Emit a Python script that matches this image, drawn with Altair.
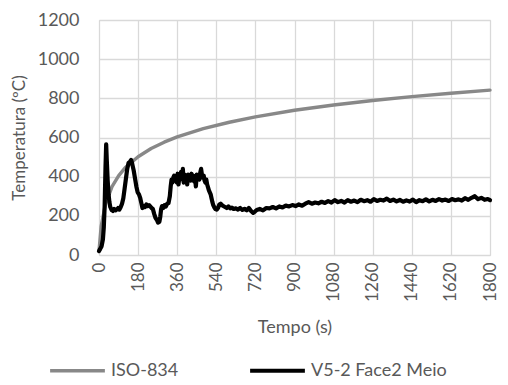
import altair as alt
import pandas as pd

# ISO-834 standard curve
iso_t = [0, 10, 30, 60, 90, 120, 180, 240, 300, 360, 480, 600, 720, 900, 1080, 1260, 1440, 1620, 1800]
iso_T = [20, 147, 261, 349, 404, 445, 502, 544, 576, 603, 645, 678, 705, 739, 766, 789, 809, 826, 842]

v5_t = [0, 5, 12, 18, 22, 26, 30, 33, 36, 40, 44, 48, 52, 58, 64, 70, 76, 82, 88, 94,
        100, 106, 112, 118, 124, 130, 136, 142, 148, 152, 156, 160, 166, 172, 178, 184, 190, 195, 200, 206,
        212, 218, 224, 230, 236, 242, 248, 254, 260, 266, 272, 278, 282, 286, 290, 296, 302, 308, 314, 320,
        326, 330, 334, 338, 342, 346, 350, 354, 358, 362, 366, 370, 374, 378, 382, 386, 390, 394, 398, 402,
        406, 410, 414, 418, 422, 426, 430, 434, 438, 442, 446, 450, 454, 458, 462, 466, 470, 474, 478, 482,
        486, 490, 494, 498, 502, 506, 510, 514, 518, 522, 526, 530, 536, 542, 548, 554, 560, 566, 572, 580,
        588, 596, 604, 612, 620, 630, 640, 650, 660, 670, 680, 690, 700, 710, 718, 726, 740, 755, 770, 785,
        800, 815, 830, 845, 860, 875, 890, 905, 920, 935, 950, 965, 980, 995, 1010, 1025, 1040, 1055, 1070, 1085,
        1100, 1115, 1130, 1145, 1160, 1175, 1190, 1205, 1220, 1235, 1250, 1265, 1280, 1295, 1310, 1325, 1340, 1355, 1370, 1385,
        1400, 1415, 1430, 1445, 1460, 1475, 1490, 1505, 1520, 1535, 1550, 1565, 1580, 1595, 1610, 1625, 1640, 1655, 1670, 1685,
        1700, 1715, 1730, 1745, 1760, 1775, 1790, 1800]
v5_T = [20, 30, 45, 80, 140, 250, 450, 565, 480, 380, 310, 270, 245, 230, 225, 235, 228, 232, 240, 232,
        245, 262, 290, 340, 390, 440, 470, 475, 485, 470, 450, 430, 390, 350, 320, 310, 290, 265, 240, 250,
        245, 258, 250, 255, 248, 240, 235, 210, 190, 180, 165, 170, 195, 235, 250, 240, 255, 248, 262, 265,
        300, 350, 385, 370, 395, 405, 380, 400, 370, 415, 360, 400, 385, 425, 395, 440, 370, 410, 385, 400,
        360, 410, 390, 405, 380, 415, 395, 405, 375, 395, 350, 410, 395, 405, 385, 420, 440, 410, 395, 405,
        380, 370, 385, 360, 345, 330, 320, 310, 290, 270, 255, 245, 235, 232, 240, 258, 262, 255, 250, 245,
        240, 248, 238, 242, 235, 238, 232, 240, 230, 236, 228, 240, 225, 215, 222, 230, 235, 228, 240, 238,
        245, 238, 248, 243, 252, 248, 255, 250, 258, 252, 262, 270, 262, 268, 264, 272, 266, 275, 268, 280,
        270, 276, 268, 280, 272, 278, 270, 282, 275, 280, 272, 285, 276, 282, 278, 288, 276, 283, 274, 281,
        272, 279, 273, 283, 270, 280, 275, 284, 274, 282, 276, 285, 278, 283, 276, 286, 280, 284, 278, 290,
        282, 292, 300, 285, 292, 282, 286, 280]

series = ["ISO-834", "V5-2 Face2 Meio"]
colors = ["#888888", "#000000"]
widths = [3.4, 4.2]

rows = []
for i, (t, T) in enumerate(zip(iso_t, iso_T)):
    rows.append({"t": t, "T": T, "s": series[0], "o": i})
for i, (t, T) in enumerate(zip(v5_t, v5_T)):
    rows.append({"t": t, "T": T, "s": series[1], "o": i})
df = pd.DataFrame(rows)

FONT = "Lato"
TXT = "#595959"
GRID = "#d9d9d9"

chart = alt.Chart(df).mark_line(strokeJoin="round", strokeCap="round").encode(
    x=alt.X("t:Q", title="Tempo (s)",
            scale=alt.Scale(domain=[0, 1800], nice=False, zero=False),
            axis=alt.Axis(values=list(range(0, 1801, 180)), format="d", labelAngle=-90, labelPadding=7,
                          titlePadding=17, labelFontSize=17)),
    y=alt.Y("T:Q", title="Temperatura (ºC)",
            scale=alt.Scale(domain=[0, 1200], nice=False),
            axis=alt.Axis(values=list(range(0, 1201, 200)), format="d", labelPadding=20,
                          titlePadding=9, titleFontSize=17)),
    color=alt.Color("s:N", scale=alt.Scale(domain=series, range=colors),
                    legend=alt.Legend(title=None, orient="none", legendX=-51, legendY=321,
                                      direction="horizontal", symbolType="stroke",
                                      symbolSize=3000, symbolStrokeWidth=4,
                                      labelOffset=4, columnPadding=62)),
    strokeWidth=alt.StrokeWidth("s:N", scale=alt.Scale(domain=series, range=widths), legend=None),
    order="o:Q",
).properties(
    width=391, height=235,
    autosize=alt.AutoSizeParams(type="none"),
    padding={"left": 91, "top": 12, "right": 10, "bottom": 130},
).configure_view(stroke=GRID, strokeWidth=1).configure_axis(
    grid=True, gridColor=GRID, gridWidth=1.3, domain=False, ticks=False,
    labelFont=FONT, titleFont=FONT, labelFontSize=18, titleFontSize=18,
    labelColor=TXT, titleColor=TXT, titleFontWeight="normal",
).configure_legend(labelFont=FONT, labelFontSize=18, labelColor=TXT)

chart.save("out.html", embed_options={"renderer": "svg", "actions": False})
